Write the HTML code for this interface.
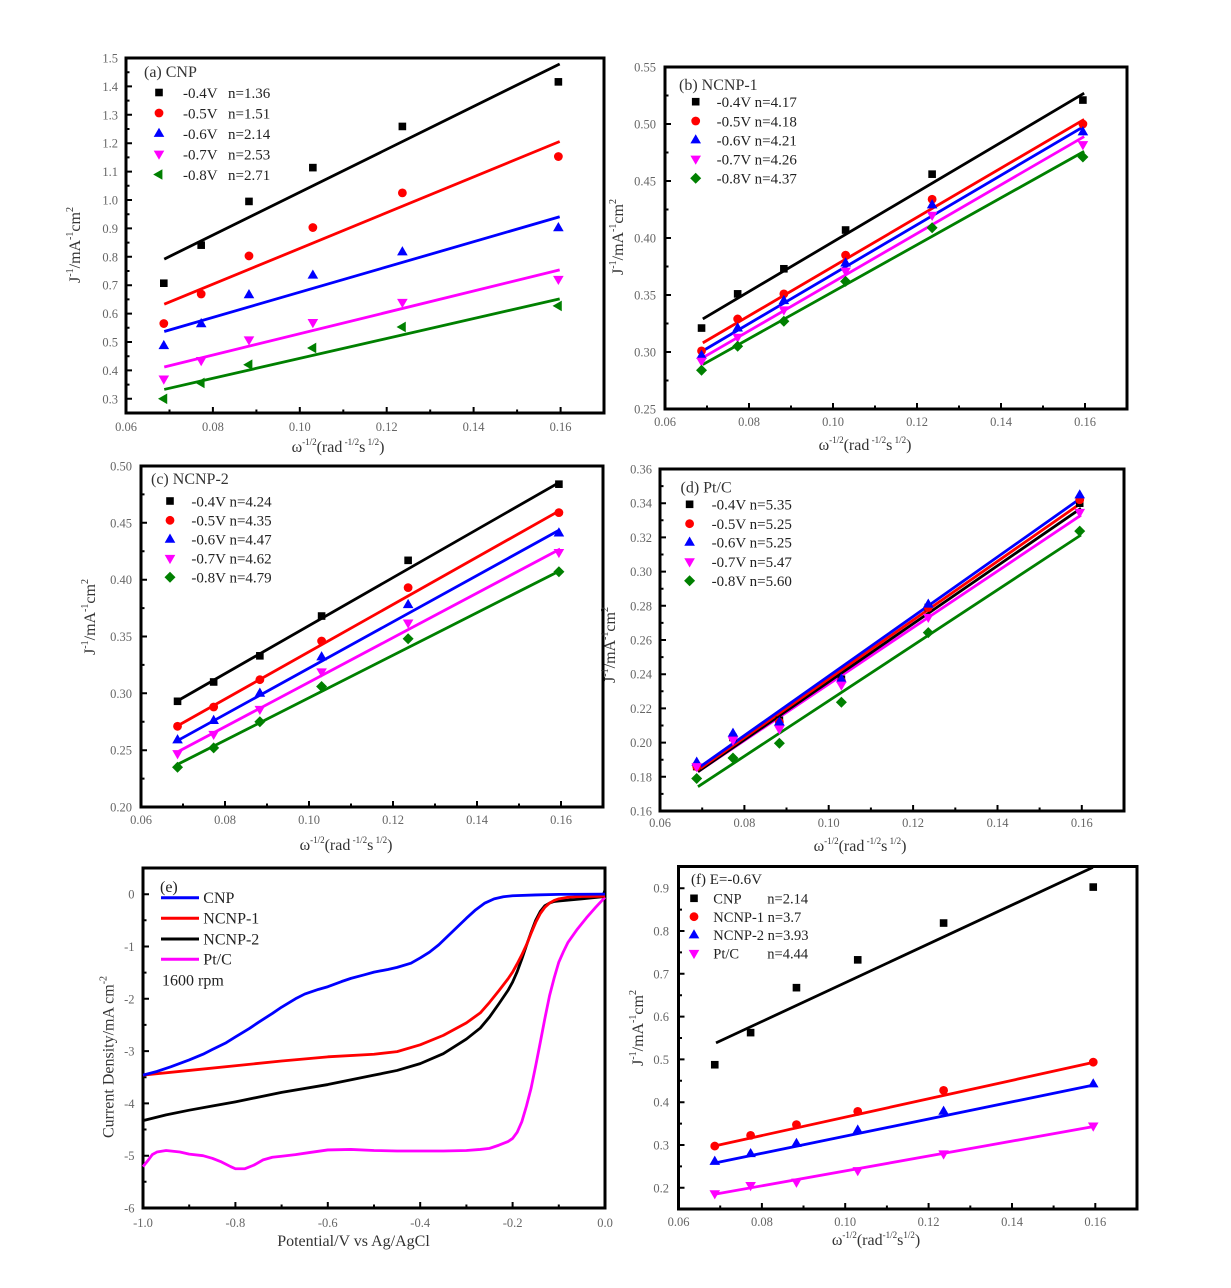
<!DOCTYPE html>
<html><head><meta charset="utf-8"><style>
html,body{margin:0;padding:0;background:#fff;}
svg{display:block;font-family:"Liberation Serif",serif;}
.tl{font-size:12.5px;fill:#666;}
.ttl{font-size:16px;fill:#333;}
.lg{font-size:15px;fill:#222;}
.fr{fill:none;stroke:#000;stroke-width:3;}
.tk{fill:none;stroke:#000;stroke-width:2;}
.ln{fill:none;stroke-width:2.8;vector-effect:non-scaling-stroke;stroke-linejoin:round;}
.el{fill:none;stroke-width:2.8;vector-effect:non-scaling-stroke;stroke-linejoin:round;}
</style></head><body>
<svg width="1231" height="1288" viewBox="0 0 1231 1288" xmlns="http://www.w3.org/2000/svg">
<rect width="1231" height="1288" fill="#fff"/>
<defs>
<path id="sq" d="M-3.8-3.8h7.6v7.6h-7.6z"/>
<circle id="ci" r="4.4"/>
<path id="tu" d="M0-5.8L5.3 3.4H-5.3z"/>
<path id="td" d="M0 5.8L5.3-3.4H-5.3z"/>
<path id="tlf" d="M-5.8 0L3.4-5.3V5.3z"/>
<path id="di" d="M0-5.5L5.5 0L0 5.5L-5.5 0z"/>
<g id="a_sq" transform="scale(0.00023012,-0.0035211)"><use href="#sq"/></g>
<g id="a_ci" transform="scale(0.00023012,-0.0035211)"><use href="#ci"/></g>
<g id="a_tu" transform="scale(0.00023012,-0.0035211)"><use href="#tu"/></g>
<g id="a_td" transform="scale(0.00023012,-0.0035211)"><use href="#td"/></g>
<g id="a_tl" transform="scale(0.00023012,-0.0035211)"><use href="#tlf"/></g>
<g id="b_sq" transform="scale(0.00023810,-0.00087719)"><use href="#sq"/></g>
<g id="b_ci" transform="scale(0.00023810,-0.00087719)"><use href="#ci"/></g>
<g id="b_tu" transform="scale(0.00023810,-0.00087719)"><use href="#tu"/></g>
<g id="b_td" transform="scale(0.00023810,-0.00087719)"><use href="#td"/></g>
<g id="b_di" transform="scale(0.00023810,-0.00087719)"><use href="#di"/></g>
<g id="c_sq" transform="scale(0.00023810,-0.00087977)"><use href="#sq"/></g>
<g id="c_ci" transform="scale(0.00023810,-0.00087977)"><use href="#ci"/></g>
<g id="c_tu" transform="scale(0.00023810,-0.00087977)"><use href="#tu"/></g>
<g id="c_td" transform="scale(0.00023810,-0.00087977)"><use href="#td"/></g>
<g id="c_di" transform="scale(0.00023810,-0.00087977)"><use href="#di"/></g>
<g id="d_sq" transform="scale(0.00023707,-0.00058480)"><use href="#sq"/></g>
<g id="d_ci" transform="scale(0.00023707,-0.00058480)"><use href="#ci"/></g>
<g id="d_tu" transform="scale(0.00023707,-0.00058480)"><use href="#tu"/></g>
<g id="d_td" transform="scale(0.00023707,-0.00058480)"><use href="#td"/></g>
<g id="d_di" transform="scale(0.00023707,-0.00058480)"><use href="#di"/></g>
<g id="f_sq" transform="scale(0.00023991,-0.0023359)"><use href="#sq"/></g>
<g id="f_ci" transform="scale(0.00023991,-0.0023359)"><use href="#ci"/></g>
<g id="f_tu" transform="scale(0.00023991,-0.0023359)"><use href="#tu"/></g>
<g id="f_td" transform="scale(0.00023991,-0.0023359)"><use href="#td"/></g>
</defs>

<!-- ================= PANEL A ================= -->
<rect class="fr" x="126" y="58" width="478" height="355"/>
<path class="tk" d="M126 398.8h6M126 370.4h6M126 342h6M126 313.6h6M126 285.2h6M126 256.8h6M126 228.4h6M126 200h6M126 171.6h6M126 143.2h6M126 114.8h6M126 86.4h6
M126 384.6h3.5M126 356.2h3.5M126 327.8h3.5M126 299.4h3.5M126 271h3.5M126 242.6h3.5M126 214.2h3.5M126 185.8h3.5M126 157.4h3.5M126 129h3.5M126 100.6h3.5M126 72.2h3.5
M212.9 413v-6M299.8 413v-6M386.7 413v-6M473.6 413v-6M560.6 413v-6
M169.5 413v-3.5M256.4 413v-3.5M343.3 413v-3.5M430.2 413v-3.5M517.1 413v-3.5"/>
<g class="tl" text-anchor="end">
<text x="118" y="403.3">0.3</text><text x="118" y="374.9">0.4</text><text x="118" y="346.5">0.5</text><text x="118" y="318.1">0.6</text><text x="118" y="289.7">0.7</text><text x="118" y="261.3">0.8</text><text x="118" y="232.9">0.9</text><text x="118" y="204.5">1.0</text><text x="118" y="176.1">1.1</text><text x="118" y="147.7">1.2</text><text x="118" y="119.3">1.3</text><text x="118" y="90.9">1.4</text><text x="118" y="62.5">1.5</text>
</g>
<g class="tl" text-anchor="middle">
<text x="126" y="431">0.06</text><text x="212.9" y="431">0.08</text><text x="299.8" y="431">0.10</text><text x="386.7" y="431">0.12</text><text x="473.6" y="431">0.14</text><text x="560.6" y="431">0.16</text>
</g>
<text class="ttl" x="338" y="452" text-anchor="middle">ω<tspan dy="-7" font-size="9">-1/2</tspan><tspan dy="7">(rad</tspan><tspan dy="-7" font-size="9"> -1/2</tspan><tspan dy="7">s</tspan><tspan dy="-7" font-size="9"> 1/2</tspan><tspan dy="7">)</tspan></text>
<text class="ttl" transform="translate(80,245) rotate(-90)" text-anchor="middle">J<tspan dy="-7" font-size="10">-1</tspan><tspan dy="7">/mA</tspan><tspan dy="-7" font-size="10">-1</tspan><tspan dy="7">cm</tspan><tspan dy="-7" font-size="10">2</tspan></text>
<g transform="matrix(4345.5,0,0,-284,-134.73,484)">
<polyline class="ln" stroke="#000" points="0.0688,0.792 0.1598,1.479"/>
<polyline class="ln" stroke="#f00" points="0.0688,0.633 0.1598,1.206"/>
<polyline class="ln" stroke="#00f" points="0.0688,0.537 0.1598,0.941"/>
<polyline class="ln" stroke="#f0f" points="0.0688,0.412 0.1598,0.754"/>
<polyline class="ln" stroke="#008000" points="0.0688,0.333 0.1598,0.652"/>
<g fill="#000"><use href="#a_sq" x="0.0687" y="0.707"/><use href="#a_sq" x="0.0773" y="0.841"/><use href="#a_sq" x="0.0883" y="0.995"/><use href="#a_sq" x="0.1030" y="1.114"/><use href="#a_sq" x="0.1236" y="1.259"/><use href="#a_sq" x="0.1595" y="1.416"/></g>
<g fill="#f00"><use href="#a_ci" x="0.0687" y="0.565"/><use href="#a_ci" x="0.0773" y="0.669"/><use href="#a_ci" x="0.0883" y="0.803"/><use href="#a_ci" x="0.1030" y="0.903"/><use href="#a_ci" x="0.1236" y="1.025"/><use href="#a_ci" x="0.1595" y="1.153"/></g>
<g fill="#00f"><use href="#a_tu" x="0.0687" y="0.487"/><use href="#a_tu" x="0.0773" y="0.564"/><use href="#a_tu" x="0.0883" y="0.666"/><use href="#a_tu" x="0.1030" y="0.735"/><use href="#a_tu" x="0.1236" y="0.817"/><use href="#a_tu" x="0.1595" y="0.902"/></g>
<g fill="#f0f"><use href="#a_td" x="0.0687" y="0.370"/><use href="#a_td" x="0.0773" y="0.435"/><use href="#a_td" x="0.0883" y="0.508"/><use href="#a_td" x="0.1030" y="0.569"/><use href="#a_td" x="0.1236" y="0.640"/><use href="#a_td" x="0.1595" y="0.721"/></g>
<g fill="#008000"><use href="#a_tl" x="0.0687" y="0.300"/><use href="#a_tl" x="0.0773" y="0.356"/><use href="#a_tl" x="0.0883" y="0.420"/><use href="#a_tl" x="0.1030" y="0.479"/><use href="#a_tl" x="0.1236" y="0.553"/><use href="#a_tl" x="0.1595" y="0.627"/></g>
</g>
<text class="ttl" x="144" y="77" fill="#222">(a) CNP</text>
<use href="#sq" x="159" y="92.5" fill="#000"/><use href="#ci" x="159" y="113" fill="#f00"/><use href="#tu" x="159" y="133.5" fill="#00f"/><use href="#td" x="159" y="154" fill="#f0f"/><use href="#tlf" x="159" y="174.5" fill="#008000"/>
<g class="lg">
<text x="183" y="98">-0.4V</text><text x="228" y="98">n=1.36</text>
<text x="183" y="118.5">-0.5V</text><text x="228" y="118.5">n=1.51</text>
<text x="183" y="139">-0.6V</text><text x="228" y="139">n=2.14</text>
<text x="183" y="159.5">-0.7V</text><text x="228" y="159.5">n=2.53</text>
<text x="183" y="180">-0.8V</text><text x="228" y="180">n=2.71</text>
</g>

<!-- ================= PANEL B ================= -->
<rect class="fr" x="665" y="67" width="462" height="342"/>
<path class="tk" d="M665 352h6M665 295h6M665 238h6M665 181h6M665 124h6
M665 380.5h3.5M665 323.5h3.5M665 266.5h3.5M665 209.5h3.5M665 152.5h3.5M665 95.5h3.5
M749 409v-6M833 409v-6M917 409v-6M1001 409v-6M1085 409v-6
M707 409v-3.5M791 409v-3.5M875 409v-3.5M959 409v-3.5M1043 409v-3.5"/>
<g class="tl" text-anchor="end">
<text x="656" y="413.5">0.25</text><text x="656" y="356.5">0.30</text><text x="656" y="299.5">0.35</text><text x="656" y="242.5">0.40</text><text x="656" y="185.5">0.45</text><text x="656" y="128.5">0.50</text><text x="656" y="71.5">0.55</text>
</g>
<g class="tl" text-anchor="middle">
<text x="665" y="426">0.06</text><text x="749" y="426">0.08</text><text x="833" y="426">0.10</text><text x="917" y="426">0.12</text><text x="1001" y="426">0.14</text><text x="1085" y="426">0.16</text>
</g>
<text class="ttl" x="865" y="450" text-anchor="middle">ω<tspan dy="-7" font-size="9">-1/2</tspan><tspan dy="7">(rad</tspan><tspan dy="-7" font-size="9"> -1/2</tspan><tspan dy="7">s</tspan><tspan dy="-7" font-size="9"> 1/2</tspan><tspan dy="7">)</tspan></text>
<text class="ttl" transform="translate(623,237) rotate(-90)" text-anchor="middle">J<tspan dy="-7" font-size="10">-1</tspan><tspan dy="7">/mA</tspan><tspan dy="-7" font-size="10">-1</tspan><tspan dy="7">cm</tspan><tspan dy="-7" font-size="10">2</tspan></text>
<g transform="matrix(4200,0,0,-1140,413,694)">
<polyline class="ln" stroke="#000" points="0.0690,0.329 0.1598,0.527"/>
<polyline class="ln" stroke="#f00" points="0.0690,0.308 0.1598,0.504"/>
<polyline class="ln" stroke="#00f" points="0.0690,0.301 0.1598,0.498"/>
<polyline class="ln" stroke="#f0f" points="0.0690,0.295 0.1598,0.489"/>
<polyline class="ln" stroke="#008000" points="0.0690,0.289 0.1598,0.476"/>
<g fill="#000"><use href="#b_sq" x="0.0687" y="0.321"/><use href="#b_sq" x="0.0773" y="0.351"/><use href="#b_sq" x="0.0883" y="0.373"/><use href="#b_sq" x="0.1030" y="0.407"/><use href="#b_sq" x="0.1236" y="0.456"/><use href="#b_sq" x="0.1595" y="0.521"/></g>
<g fill="#f00"><use href="#b_ci" x="0.0687" y="0.301"/><use href="#b_ci" x="0.0773" y="0.329"/><use href="#b_ci" x="0.0883" y="0.351"/><use href="#b_ci" x="0.1030" y="0.385"/><use href="#b_ci" x="0.1236" y="0.434"/><use href="#b_ci" x="0.1595" y="0.500"/></g>
<g fill="#00f"><use href="#b_tu" x="0.0687" y="0.297"/><use href="#b_tu" x="0.0773" y="0.321"/><use href="#b_tu" x="0.0883" y="0.345"/><use href="#b_tu" x="0.1030" y="0.378"/><use href="#b_tu" x="0.1236" y="0.429"/><use href="#b_tu" x="0.1595" y="0.493"/></g>
<g fill="#f0f"><use href="#b_td" x="0.0687" y="0.292"/><use href="#b_td" x="0.0773" y="0.313"/><use href="#b_td" x="0.0883" y="0.337"/><use href="#b_td" x="0.1030" y="0.371"/><use href="#b_td" x="0.1236" y="0.420"/><use href="#b_td" x="0.1595" y="0.482"/></g>
<g fill="#008000"><use href="#b_di" x="0.0687" y="0.284"/><use href="#b_di" x="0.0773" y="0.305"/><use href="#b_di" x="0.0883" y="0.327"/><use href="#b_di" x="0.1030" y="0.362"/><use href="#b_di" x="0.1236" y="0.409"/><use href="#b_di" x="0.1595" y="0.471"/></g>
</g>
<text class="ttl" x="679" y="90" fill="#222">(b) NCNP-1</text>
<use href="#sq" x="695.7" y="101.7" fill="#000"/><use href="#ci" x="695.7" y="121" fill="#f00"/><use href="#tu" x="695.7" y="140" fill="#00f"/><use href="#td" x="695.7" y="159" fill="#f0f"/><use href="#di" x="695.7" y="178.3" fill="#008000"/>
<g class="lg">
<text x="716.6" y="107">-0.4V n=4.17</text>
<text x="716.6" y="126.3">-0.5V n=4.18</text>
<text x="716.6" y="145.3">-0.6V n=4.21</text>
<text x="716.6" y="164.3">-0.7V n=4.26</text>
<text x="716.6" y="183.6">-0.8V n=4.37</text>
</g>

<!-- ================= PANEL C ================= -->
<rect class="fr" x="141" y="466" width="462" height="341"/>
<path class="tk" d="M141 750.2h6M141 693.3h6M141 636.5h6M141 579.7h6M141 522.8h6
M141 778.6h3.5M141 721.7h3.5M141 664.9h3.5M141 608.1h3.5M141 551.2h3.5M141 494.4h3.5
M225 807v-6M309 807v-6M393 807v-6M477 807v-6M561 807v-6
M183 807v-3.5M267 807v-3.5M351 807v-3.5M435 807v-3.5M519 807v-3.5"/>
<g class="tl" text-anchor="end">
<text x="132" y="811.5">0.20</text><text x="132" y="754.7">0.25</text><text x="132" y="697.8">0.30</text><text x="132" y="641">0.35</text><text x="132" y="584.2">0.40</text><text x="132" y="527.3">0.45</text><text x="132" y="470.5">0.50</text>
</g>
<g class="tl" text-anchor="middle">
<text x="141" y="824">0.06</text><text x="225" y="824">0.08</text><text x="309" y="824">0.10</text><text x="393" y="824">0.12</text><text x="477" y="824">0.14</text><text x="561" y="824">0.16</text>
</g>
<text class="ttl" x="346" y="850" text-anchor="middle">ω<tspan dy="-7" font-size="9">-1/2</tspan><tspan dy="7">(rad</tspan><tspan dy="-7" font-size="9"> -1/2</tspan><tspan dy="7">s</tspan><tspan dy="-7" font-size="9"> 1/2</tspan><tspan dy="7">)</tspan></text>
<text class="ttl" transform="translate(95,617) rotate(-90)" text-anchor="middle">J<tspan dy="-7" font-size="10">-1</tspan><tspan dy="7">/mA</tspan><tspan dy="-7" font-size="10">-1</tspan><tspan dy="7">cm</tspan><tspan dy="-7" font-size="10">2</tspan></text>
<g transform="matrix(4200,0,0,-1136.67,-111,1034.33)">
<polyline class="ln" stroke="#000" points="0.0690,0.294 0.1598,0.486"/>
<polyline class="ln" stroke="#f00" points="0.0690,0.272 0.1598,0.461"/>
<polyline class="ln" stroke="#00f" points="0.0690,0.259 0.1598,0.444"/>
<polyline class="ln" stroke="#f0f" points="0.0690,0.249 0.1598,0.427"/>
<polyline class="ln" stroke="#008000" points="0.0690,0.238 0.1598,0.408"/>
<g fill="#000"><use href="#c_sq" x="0.0687" y="0.293"/><use href="#c_sq" x="0.0773" y="0.310"/><use href="#c_sq" x="0.0883" y="0.333"/><use href="#c_sq" x="0.1030" y="0.368"/><use href="#c_sq" x="0.1236" y="0.417"/><use href="#c_sq" x="0.1595" y="0.484"/></g>
<g fill="#f00"><use href="#c_ci" x="0.0687" y="0.271"/><use href="#c_ci" x="0.0773" y="0.288"/><use href="#c_ci" x="0.0883" y="0.312"/><use href="#c_ci" x="0.1030" y="0.346"/><use href="#c_ci" x="0.1236" y="0.393"/><use href="#c_ci" x="0.1595" y="0.459"/></g>
<g fill="#00f"><use href="#c_tu" x="0.0687" y="0.259"/><use href="#c_tu" x="0.0773" y="0.276"/><use href="#c_tu" x="0.0883" y="0.300"/><use href="#c_tu" x="0.1030" y="0.332"/><use href="#c_tu" x="0.1236" y="0.378"/><use href="#c_tu" x="0.1595" y="0.441"/></g>
<g fill="#f0f"><use href="#c_td" x="0.0687" y="0.247"/><use href="#c_td" x="0.0773" y="0.264"/><use href="#c_td" x="0.0883" y="0.286"/><use href="#c_td" x="0.1030" y="0.319"/><use href="#c_td" x="0.1236" y="0.362"/><use href="#c_td" x="0.1595" y="0.424"/></g>
<g fill="#008000"><use href="#c_di" x="0.0687" y="0.235"/><use href="#c_di" x="0.0773" y="0.252"/><use href="#c_di" x="0.0883" y="0.275"/><use href="#c_di" x="0.1030" y="0.306"/><use href="#c_di" x="0.1236" y="0.348"/><use href="#c_di" x="0.1595" y="0.407"/></g>
</g>
<text class="ttl" x="151" y="484" fill="#222">(c) NCNP-2</text>
<use href="#sq" x="170" y="501" fill="#000"/><use href="#ci" x="170" y="520.3" fill="#f00"/><use href="#tu" x="170" y="539.3" fill="#00f"/><use href="#td" x="170" y="558.3" fill="#f0f"/><use href="#di" x="170" y="577.3" fill="#008000"/>
<g class="lg">
<text x="191.4" y="506.3">-0.4V n=4.24</text>
<text x="191.4" y="525.6">-0.5V n=4.35</text>
<text x="191.4" y="544.6">-0.6V n=4.47</text>
<text x="191.4" y="563.6">-0.7V n=4.62</text>
<text x="191.4" y="582.6">-0.8V n=4.79</text>
</g>

<!-- ================= PANEL D ================= -->
<rect class="fr" x="660" y="469" width="464" height="342"/>
<path class="tk" d="M660 776.8h6M660 742.6h6M660 708.4h6M660 674.2h6M660 640h6M660 605.8h6M660 571.6h6M660 537.4h6M660 503.2h6
M660 793.9h3.5M660 759.7h3.5M660 725.5h3.5M660 691.3h3.5M660 657.1h3.5M660 622.9h3.5M660 588.7h3.5M660 554.5h3.5M660 520.3h3.5M660 486.1h3.5
M744.4 811v-6M828.7 811v-6M913.1 811v-6M997.5 811v-6M1081.8 811v-6
M702.2 811v-3.5M786.5 811v-3.5M870.9 811v-3.5M955.3 811v-3.5M1039.6 811v-3.5"/>
<g class="tl" text-anchor="end">
<text x="652" y="815.5">0.16</text><text x="652" y="781.3">0.18</text><text x="652" y="747.1">0.20</text><text x="652" y="712.9">0.22</text><text x="652" y="678.7">0.24</text><text x="652" y="644.5">0.26</text><text x="652" y="610.3">0.28</text><text x="652" y="576.1">0.30</text><text x="652" y="541.9">0.32</text><text x="652" y="507.7">0.34</text><text x="652" y="473.5">0.36</text>
</g>
<g class="tl" text-anchor="middle">
<text x="660" y="827">0.06</text><text x="744.4" y="827">0.08</text><text x="828.7" y="827">0.10</text><text x="913.1" y="827">0.12</text><text x="997.5" y="827">0.14</text><text x="1081.8" y="827">0.16</text>
</g>
<text class="ttl" x="860" y="851" text-anchor="middle">ω<tspan dy="-7" font-size="9">-1/2</tspan><tspan dy="7">(rad</tspan><tspan dy="-7" font-size="9"> -1/2</tspan><tspan dy="7">s</tspan><tspan dy="-7" font-size="9"> 1/2</tspan><tspan dy="7">)</tspan></text>
<text class="ttl" transform="translate(615,645) rotate(-90)" text-anchor="middle">J<tspan dy="-7" font-size="10">-1</tspan><tspan dy="7">/mA</tspan><tspan dy="-7" font-size="10">-1</tspan><tspan dy="7">cm</tspan><tspan dy="-7" font-size="10">2</tspan></text>
<g transform="matrix(4218.2,0,0,-1710,406.91,1084.6)">
<polyline class="ln" stroke="#008000" points="0.0690,0.1742 0.1598,0.3214"/>
<polyline class="ln" stroke="#f0f" points="0.0690,0.183 0.1598,0.333"/>
<polyline class="ln" stroke="#000" points="0.0690,0.183 0.1598,0.337"/>
<polyline class="ln" stroke="#f00" points="0.0690,0.184 0.1598,0.340"/>
<polyline class="ln" stroke="#00f" points="0.0690,0.185 0.1598,0.343"/>
<g fill="#000"><use href="#d_sq" x="0.0687" y="0.186"/><use href="#d_sq" x="0.0773" y="0.203"/><use href="#d_sq" x="0.0883" y="0.213"/><use href="#d_sq" x="0.1030" y="0.237"/><use href="#d_sq" x="0.1236" y="0.279"/><use href="#d_sq" x="0.1595" y="0.340"/></g>
<g fill="#f00"><use href="#d_ci" x="0.0687" y="0.186"/><use href="#d_ci" x="0.0773" y="0.203"/><use href="#d_ci" x="0.0883" y="0.212"/><use href="#d_ci" x="0.1030" y="0.236"/><use href="#d_ci" x="0.1236" y="0.279"/><use href="#d_ci" x="0.1595" y="0.342"/></g>
<g fill="#00f"><use href="#d_tu" x="0.0687" y="0.1885"/><use href="#d_tu" x="0.0773" y="0.2054"/><use href="#d_tu" x="0.0883" y="0.212"/><use href="#d_tu" x="0.1030" y="0.2372"/><use href="#d_tu" x="0.1236" y="0.2809"/><use href="#d_tu" x="0.1595" y="0.3448"/></g>
<g fill="#f0f"><use href="#d_td" x="0.0687" y="0.186"/><use href="#d_td" x="0.0773" y="0.2015"/><use href="#d_td" x="0.0883" y="0.208"/><use href="#d_td" x="0.1030" y="0.2337"/><use href="#d_td" x="0.1236" y="0.2733"/><use href="#d_td" x="0.1595" y="0.3347"/></g>
<g fill="#008000"><use href="#d_di" x="0.0687" y="0.179"/><use href="#d_di" x="0.0773" y="0.191"/><use href="#d_di" x="0.0883" y="0.1996"/><use href="#d_di" x="0.1030" y="0.2236"/><use href="#d_di" x="0.1236" y="0.2643"/><use href="#d_di" x="0.1595" y="0.3237"/></g>
</g>
<text class="ttl" x="680.5" y="492.5" fill="#222">(d) Pt/C</text>
<use href="#sq" x="689.6" y="504.3" fill="#000"/><use href="#ci" x="689.6" y="523.7" fill="#f00"/><use href="#tu" x="689.6" y="542.3" fill="#00f"/><use href="#td" x="689.6" y="561.7" fill="#f0f"/><use href="#di" x="689.6" y="580.7" fill="#008000"/>
<g class="lg">
<text x="711.6" y="509.6">-0.4V n=5.35</text>
<text x="711.6" y="529">-0.5V n=5.25</text>
<text x="711.6" y="547.6">-0.6V n=5.25</text>
<text x="711.6" y="567">-0.7V n=5.47</text>
<text x="711.6" y="586">-0.8V n=5.60</text>
</g>

<!-- ================= PANEL E ================= -->
<rect class="fr" x="143" y="868" width="462" height="340"/>
<path class="tk" d="M143 894.2h6M143 946.5h6M143 998.8h6M143 1051.1h6M143 1103.4h6M143 1155.7h6
M143 920.3h3.5M143 972.6h3.5M143 1024.9h3.5M143 1077.2h3.5M143 1129.5h3.5M143 1181.8h3.5
M235.4 1208v-6M327.8 1208v-6M420.2 1208v-6M512.6 1208v-6
M189.2 1208v-3.5M281.6 1208v-3.5M374 1208v-3.5M466.4 1208v-3.5M558.8 1208v-3.5"/>
<g class="tl" text-anchor="end">
<text x="134.5" y="898.7">0</text><text x="134.5" y="951">-1</text><text x="134.5" y="1003.3">-2</text><text x="134.5" y="1055.6">-3</text><text x="134.5" y="1107.9">-4</text><text x="134.5" y="1160.2">-5</text><text x="134.5" y="1212.5">-6</text>
</g>
<g class="tl" text-anchor="middle">
<text x="143" y="1227">-1.0</text><text x="235.4" y="1227">-0.8</text><text x="327.8" y="1227">-0.6</text><text x="420.2" y="1227">-0.4</text><text x="512.6" y="1227">-0.2</text><text x="605" y="1227">0.0</text>
</g>
<text class="ttl" x="353.5" y="1246" text-anchor="middle">Potential/V vs Ag/AgCl</text>
<text class="ttl" transform="translate(113.5,1057) rotate(-90)" text-anchor="middle">Current Density/mA cm<tspan dy="-7" font-size="10">-2</tspan></text>
<g transform="matrix(462,0,0,-52.31,605,894.15)">
<polyline class="el" stroke="#f0f" points="-1,-5.21 -0.99,-5.1 -0.98,-4.98 -0.97,-4.93 -0.95,-4.90 -0.92,-4.93 -0.9,-4.97 -0.87,-5.0 -0.85,-5.05 -0.83,-5.12 -0.81,-5.21 -0.8,-5.25 -0.78,-5.25 -0.76,-5.18 -0.74,-5.08 -0.72,-5.03 -0.7,-5.01 -0.67,-4.98 -0.64,-4.94 -0.6,-4.89 -0.55,-4.88 -0.5,-4.90 -0.45,-4.91 -0.4,-4.91 -0.35,-4.91 -0.3,-4.90 -0.27,-4.88 -0.25,-4.86 -0.23,-4.80 -0.21,-4.73 -0.2,-4.67 -0.19,-4.55 -0.18,-4.35 -0.17,-4.05 -0.16,-3.71 -0.15,-3.28 -0.14,-2.83 -0.13,-2.37 -0.12,-1.94 -0.11,-1.6 -0.1,-1.30 -0.09,-1.10 -0.08,-0.92 -0.06,-0.67 -0.04,-0.45 -0.02,-0.25 0,-0.06"/>
<polyline class="el" stroke="#000" points="-1,-4.33 -0.95,-4.22 -0.9,-4.13 -0.85,-4.05 -0.8,-3.97 -0.7,-3.79 -0.6,-3.64 -0.5,-3.46 -0.45,-3.37 -0.4,-3.24 -0.35,-3.05 -0.3,-2.77 -0.27,-2.56 -0.25,-2.35 -0.23,-2.10 -0.21,-1.84 -0.2,-1.68 -0.19,-1.48 -0.18,-1.24 -0.17,-0.98 -0.16,-0.73 -0.15,-0.50 -0.14,-0.33 -0.13,-0.22 -0.12,-0.17 -0.11,-0.14 -0.1,-0.13 -0.05,-0.09 -0.005,-0.05 0,0.08"/>
<polyline class="el" stroke="#f00" points="-1,-3.46 -0.9,-3.37 -0.8,-3.28 -0.7,-3.19 -0.6,-3.11 -0.5,-3.06 -0.45,-3.01 -0.4,-2.88 -0.35,-2.70 -0.3,-2.46 -0.27,-2.27 -0.25,-2.07 -0.23,-1.85 -0.21,-1.62 -0.2,-1.49 -0.19,-1.33 -0.18,-1.16 -0.17,-0.97 -0.16,-0.75 -0.15,-0.54 -0.14,-0.37 -0.13,-0.25 -0.12,-0.17 -0.11,-0.12 -0.1,-0.09 -0.08,-0.06 -0.05,-0.045 0,-0.04"/>
<polyline class="el" stroke="#00f" points="-1,-3.46 -0.97,-3.39 -0.94,-3.30 -0.9,-3.17 -0.87,-3.06 -0.85,-2.97 -0.82,-2.84 -0.8,-2.73 -0.77,-2.57 -0.75,-2.45 -0.72,-2.28 -0.7,-2.16 -0.67,-2.0 -0.65,-1.91 -0.62,-1.82 -0.6,-1.77 -0.57,-1.67 -0.55,-1.61 -0.52,-1.54 -0.5,-1.49 -0.47,-1.44 -0.45,-1.40 -0.42,-1.32 -0.4,-1.22 -0.38,-1.11 -0.36,-0.97 -0.34,-0.80 -0.32,-0.63 -0.3,-0.46 -0.28,-0.30 -0.26,-0.17 -0.24,-0.09 -0.22,-0.05 -0.2,-0.03 -0.15,-0.015 -0.1,-0.005 0,0"/>
</g>
<text x="160" y="892" font-size="16" fill="#222">(e)</text>
<path d="M161 897.7H199" stroke="#00f" stroke-width="3"/>
<path d="M161 918.3H199" stroke="#f00" stroke-width="3"/>
<path d="M161 939H199" stroke="#000" stroke-width="3"/>
<path d="M161 959.3H199" stroke="#f0f" stroke-width="3"/>
<g font-size="16" fill="#222">
<text x="203.3" y="903">CNP</text>
<text x="203.3" y="923.6">NCNP-1</text>
<text x="203.3" y="944.3">NCNP-2</text>
<text x="203.3" y="964.6">Pt/C</text>
<text x="162" y="985.5">1600 rpm</text>
</g>

<!-- ================= PANEL F ================= -->
<rect class="fr" x="678.5" y="866.5" width="458.5" height="342.5"/>
<path class="tk" d="M678.5 1187.8h6M678.5 1145h6M678.5 1102.2h6M678.5 1059.4h6M678.5 1016.6h6M678.5 973.8h6M678.5 931h6M678.5 888.2h6
M678.5 1166.4h3.5M678.5 1123.6h3.5M678.5 1080.8h3.5M678.5 1038h3.5M678.5 995.2h3.5M678.5 952.4h3.5M678.5 909.6h3.5
M761.9 1209v-6M845.2 1209v-6M928.6 1209v-6M1012 1209v-6M1095.3 1209v-6
M720.2 1209v-3.5M803.5 1209v-3.5M886.9 1209v-3.5M970.3 1209v-3.5M1053.6 1209v-3.5"/>
<g class="tl" text-anchor="end">
<text x="669" y="1192.3">0.2</text><text x="669" y="1149.5">0.3</text><text x="669" y="1106.7">0.4</text><text x="669" y="1063.9">0.5</text><text x="669" y="1021.1">0.6</text><text x="669" y="978.3">0.7</text><text x="669" y="935.5">0.8</text><text x="669" y="892.7">0.9</text>
</g>
<g class="tl" text-anchor="middle">
<text x="678.5" y="1226">0.06</text><text x="761.9" y="1226">0.08</text><text x="845.2" y="1226">0.10</text><text x="928.6" y="1226">0.12</text><text x="1012" y="1226">0.14</text><text x="1095.3" y="1226">0.16</text>
</g>
<text class="ttl" x="876" y="1245" text-anchor="middle">ω<tspan dy="-7" font-size="9">-1/2</tspan><tspan dy="7">(rad</tspan><tspan dy="-7" font-size="9">-1/2</tspan><tspan dy="7">s</tspan><tspan dy="-7" font-size="9">1/2</tspan><tspan dy="7">)</tspan></text>
<text class="ttl" transform="translate(643,1028) rotate(-90)" text-anchor="middle">J<tspan dy="-7" font-size="10">-1</tspan><tspan dy="7">/mA</tspan><tspan dy="-7" font-size="10">-1</tspan><tspan dy="7">cm</tspan><tspan dy="-7" font-size="10">2</tspan></text>
<g transform="matrix(4168.2,0,0,-428.1,428.41,1273.22)">
<polyline class="ln" stroke="#000" points="0.0690,0.538 0.1594,0.948"/>
<polyline class="ln" stroke="#f00" points="0.0690,0.298 0.1598,0.493"/>
<polyline class="ln" stroke="#00f" points="0.0690,0.258 0.1598,0.440"/>
<polyline class="ln" stroke="#f0f" points="0.0690,0.185 0.1598,0.343"/>
<g fill="#000"><use href="#f_sq" x="0.0687" y="0.487"/><use href="#f_sq" x="0.0773" y="0.562"/><use href="#f_sq" x="0.0883" y="0.667"/><use href="#f_sq" x="0.1030" y="0.732"/><use href="#f_sq" x="0.1236" y="0.818"/><use href="#f_sq" x="0.1595" y="0.902"/></g>
<g fill="#f00"><use href="#f_ci" x="0.0687" y="0.297"/><use href="#f_ci" x="0.0773" y="0.322"/><use href="#f_ci" x="0.0883" y="0.347"/><use href="#f_ci" x="0.1030" y="0.378"/><use href="#f_ci" x="0.1236" y="0.427"/><use href="#f_ci" x="0.1595" y="0.493"/></g>
<g fill="#00f"><use href="#f_tu" x="0.0687" y="0.261"/><use href="#f_tu" x="0.0773" y="0.279"/><use href="#f_tu" x="0.0883" y="0.303"/><use href="#f_tu" x="0.1030" y="0.334"/><use href="#f_tu" x="0.1236" y="0.378"/><use href="#f_tu" x="0.1595" y="0.442"/></g>
<g fill="#f0f"><use href="#f_td" x="0.0687" y="0.186"/><use href="#f_td" x="0.0773" y="0.205"/><use href="#f_td" x="0.0883" y="0.213"/><use href="#f_td" x="0.1030" y="0.240"/><use href="#f_td" x="0.1236" y="0.279"/><use href="#f_td" x="0.1595" y="0.344"/></g>
</g>
<text x="691" y="884" font-size="15" fill="#222">(f) E=-0.6V</text>
<use href="#sq" x="694" y="898.3" fill="#000"/><use href="#ci" x="694" y="916.7" fill="#f00"/><use href="#tu" x="694" y="935" fill="#00f"/><use href="#td" x="694" y="953.3" fill="#f0f"/>
<g font-size="14.5" fill="#222">
<text x="713.3" y="903.5">CNP</text><text x="767.3" y="903.5">n=2.14</text>
<text x="713.3" y="921.9">NCNP-1 n=3.7</text>
<text x="713.3" y="940.2">NCNP-2 n=3.93</text>
<text x="713.3" y="958.5">Pt/C</text><text x="767.3" y="958.5">n=4.44</text>
</g>
</svg>
</body></html>
